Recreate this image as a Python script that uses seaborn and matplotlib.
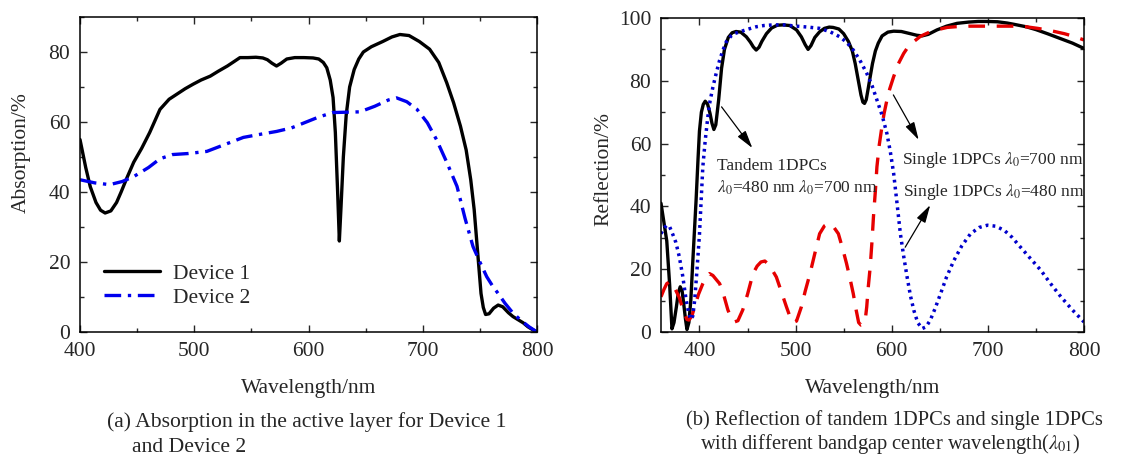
import matplotlib
matplotlib.use("Agg")
import matplotlib.pyplot as plt
from matplotlib.ticker import MultipleLocator
import numpy as np
import pandas as pd
import seaborn as sns

# ---------------- data ----------------
# (a) absorption in the active layer
dev1_wl = [400, 405, 409, 414, 418, 422, 427, 432, 436, 441, 447, 454, 461, 470, 478,
           485, 492, 499, 506, 514, 521, 529, 535, 540, 547, 554, 560, 564, 568, 572,
           576, 581, 588, 596, 604, 609, 613, 616, 619, 621.5, 623.5, 625.5, 627, 628.5,
           630.5, 633, 636, 640, 644, 648, 655, 665, 673, 680, 688, 697, 706, 714,
           721, 727, 733, 738, 742, 745, 747, 749, 751, 753, 755, 758, 762, 766, 770,
           775, 779, 784, 788, 792, 796, 800]
dev1_abs = [55, 47, 41.5, 37, 34.8, 34.0, 34.6, 37, 40, 44, 48.5, 52.5, 57, 63.6, 66.5,
            68, 69.5, 70.8, 72, 73.1, 74.5, 76, 77.3, 78.4, 78.4, 78.5, 78.3, 77.8, 76.8, 76.0,
            76.8, 78, 78.4, 78.4, 78.3, 78, 77, 75.5, 72, 67, 57, 40, 26, 36,
            50, 62, 70, 75, 78, 80, 81.5, 83, 84.3, 85, 84.7, 83, 80.8, 77,
            71.2, 65.5, 58.8, 52, 43.5, 35, 27, 19, 11, 7, 5, 5.2, 6.8, 7.7, 7.2,
            5.5, 4.4, 3.4, 2.6, 1.5, 0.7, 0]

dev2_wl = [400, 413, 426, 437, 447, 460, 470, 481, 495, 511, 527, 543, 558, 572, 585,
           595, 608, 621, 633, 645, 658, 670, 677, 686, 695, 704, 712, 721, 730, 737,
           744, 750, 756, 761, 766, 772, 779, 786, 793, 800]
dev2_abs = [43.5, 42.6, 42.1, 43, 44.4, 47, 49.5, 50.7, 51, 51.6, 53.6, 55.6, 56.5, 57.3, 58.3,
            59.6, 61.3, 62.7, 62.8, 62.9, 64.5, 66.3, 66.9, 65.8, 63.6, 59.8, 55, 48.5, 41.6, 32.5,
            24.4, 20, 15.8, 13.2, 11, 8.2, 5.4, 3.3, 1.5, 0]

# (b) reflection spectra
tandem_wl = [360, 363, 366, 369, 371.4, 373.5, 376, 378, 380, 382, 384, 385.5, 387, 389,
             391, 393, 396.5, 398.5, 400, 402, 404, 406, 408.5, 411, 413, 415, 417, 420,
             423, 426, 430, 434, 438, 443, 448.8, 453, 456, 459, 462, 465, 469.7, 475,
             481, 487, 494, 501, 506, 510, 513, 516, 520, 525, 530, 535, 539, 545, 550,
             555, 559, 562, 565, 568, 570, 571.7, 573.5, 575.5, 577.6, 580, 583, 586,
             590, 596, 602, 610, 619.4, 626, 631.6, 638, 647, 657, 668, 680, 690, 699.5,
             710, 720, 727, 740, 750, 762, 775, 788, 800]
tandem_ref = [41, 35, 29, 15, 1.0, 3, 8, 12.5, 14.4, 13, 8, 4, 0.8, 3,
              10, 22, 42, 55, 64, 70, 72.5, 73.5, 72.5, 69.6, 66.5, 64.5, 66, 74,
              84, 90, 93.8, 95.3, 95.7, 95.5, 94, 92.3, 90.8, 89.8, 90.7, 92.6, 95, 96.8,
              97.7, 97.8, 97.6, 96.2, 94, 91.5, 90, 91.2, 93.8, 95.6, 96.7, 97.1, 97, 96.5, 95,
              92.5, 89.5, 85.5, 80.5, 75.5, 73.2, 72.8, 74, 77.5, 81.3, 85.5, 89.5, 92,
              94.3, 95.5, 95.8, 95.7, 95, 94.5, 94.3, 94.8, 96.2, 97.4, 98.3, 98.7, 98.9, 98.9,
              98.8, 98.4, 98, 97.2, 96.3, 95, 93.5, 92, 90.3]

single700_wl = [360, 363, 366, 369, 372, 375, 379, 382, 385, 387, 389, 392, 395, 399,
                403.5, 407, 410.4, 414, 418, 421, 425, 429.6, 433, 436.5, 440, 445, 450,
                455.7, 460, 464, 468, 472, 476, 480, 485, 490.5, 494, 497.5, 501, 506,
                510, 515, 520, 525, 530, 534.5, 539, 544.5, 549, 553, 557, 560, 563,
                565.6, 568, 570, 572.4, 574, 575.5, 577.6, 579.5, 581, 583, 584.6, 587,
                589.8, 592, 595, 598, 602, 607, 612.4, 617, 623, 630, 640, 648, 657.7,
                670, 680, 692.6, 705, 715, 727, 740, 751.8, 765, 779.6, 790, 800]
single700_ref = [11.2, 13.5, 15.4, 16, 15.5, 13.5, 11, 8, 5.5, 4.0, 3.8, 5, 8, 12,
                 15.4, 17.6, 18.6, 18, 16.5, 15.4, 12, 7, 4.5, 3.2, 3.6, 7, 12,
                 18.6, 21, 22.3, 22.6, 21.5, 19.6, 17.5, 13, 8, 5, 3, 3.5, 8,
                 13, 18.6, 25, 31.3, 33.8, 34.6, 33.7, 31.3, 26.5, 21.8, 16.5, 12.2, 7,
                 3, 2.2, 2.4, 3.7, 8, 14, 20.7, 29, 36.7, 45, 52.6, 59.5,
                 65.4, 69.5, 73.9, 77.5, 81.3, 85.5, 88.7, 90.8, 92.5, 94.2, 95.6, 96.3, 97,
                 97.3, 97.4, 97.4, 97.4, 97.4, 97.4, 97.2, 96.7, 96, 95, 94.1, 93]

single480_wl = [360, 363, 366, 369, 372, 375.5, 379, 382.5, 386, 388.5, 391, 393, 395,
                397.5, 400, 403.5, 406, 408.7, 411, 414, 417.5, 421, 424.5, 428, 433,
                437, 442, 450, 459, 467, 476.6, 488, 501, 513, 525, 536, 546, 553,
                560, 567, 574, 579.5, 584.6, 590, 595, 598.5, 602, 605.5, 609, 612.5,
                616, 619.5, 623, 627, 631.6, 635.5, 640, 645, 650.8, 657, 664.7, 673,
                682, 691, 699.5, 708, 717, 725, 734, 744, 755, 765, 776, 788, 800]
single480_ref = [31.3, 33, 34, 33.5, 31.3, 28.5, 24, 18, 10.5, 6.5, 4.0, 5, 10,
                 20, 31, 52.6, 61, 68.5, 73.5, 78, 82.5, 86.6, 89.8, 92.5, 94.3,
                 95.1, 95.6, 96.4, 97.2, 97.6, 97.8, 97.8, 97.4, 97.1, 96.7, 95.6, 94, 92.3,
                 89.8, 86.5, 82.4, 78.5, 73.9, 69, 63.2, 57.5, 50.5, 41, 31.3, 24,
                 17.5, 11.5, 6.9, 3, 1.1, 1.6, 3.7, 7.4, 12.2, 17.5, 22.8, 27.5,
                 31.3, 33.3, 34, 33.7, 32.4, 30.2, 27, 23.5, 19.7, 15.5, 11.2, 7, 3.2]

abs_series = ["Device 1", "Device 2"]
ref_series = ["Tandem 1DPCs", "Single 1DPCs 700 nm", "Single 1DPCs 480 nm"]

# ---------------- style ----------------
sns.set_style("ticks")
plt.rcParams["font.family"] = ["Liberation Serif", "DejaVu Serif"]
plt.rcParams["mathtext.fontset"] = "stix"
plt.rcParams["axes.linewidth"] = 1.1

fig = plt.figure(figsize=(11.43, 4.58), dpi=100)
ax1 = fig.add_axes([80 / 1143, 126 / 458, 457 / 1143, 315 / 458])
ax2 = fig.add_axes([661 / 1143, 126 / 458, 423 / 1143, 314 / 458])

# ---------------- (a) absorption ----------------
df_abs = pd.concat([
    pd.DataFrame({"wl": dev1_wl, "val": dev1_abs, "series": abs_series[0]}),
    pd.DataFrame({"wl": dev2_wl, "val": dev2_abs, "series": abs_series[1]}),
])
sns.lineplot(data=df_abs[df_abs.series == abs_series[0]], x="wl", y="val", ax=ax1,
             color="black", lw=2.4, label=abs_series[0], sort=False)
sns.lineplot(data=df_abs[df_abs.series == abs_series[1]], x="wl", y="val", ax=ax1,
             color="#0000ee", lw=2.4, label=abs_series[1], sort=False,
             dashes=False)
ax1.lines[1].set_dashes((5, 2, 1, 2))

ax1.set_xlim(400, 800)
ax1.set_ylim(0, 90)
ax1.xaxis.set_major_locator(MultipleLocator(100))
ax1.xaxis.set_minor_locator(MultipleLocator(50))
ax1.yaxis.set_major_locator(MultipleLocator(20))
ax1.yaxis.set_minor_locator(MultipleLocator(10))
ax1.set_ylabel("Absorption/%", fontsize=15.5)
ax1.set_xlabel("Wavelength/nm", fontsize=15.5)
ax1.yaxis.set_label_coords(-0.108, 0.57)
ax1.xaxis.set_label_coords(0.5, -0.15)

leg = ax1.legend(loc="lower left", bbox_to_anchor=(0.01, 0.015), frameon=False,
                 fontsize=15.5, handlelength=2.6, handletextpad=0.6, labelspacing=0.2)
leg.get_lines()[1].set_dashes((5, 2, 1, 2))

# ---------------- (b) reflection ----------------
df_ref = pd.concat([
    pd.DataFrame({"wl": tandem_wl, "val": tandem_ref, "series": ref_series[0]}),
    pd.DataFrame({"wl": single700_wl, "val": single700_ref, "series": ref_series[1]}),
    pd.DataFrame({"wl": single480_wl, "val": single480_ref, "series": ref_series[2]}),
])
sns.lineplot(data=df_ref[df_ref.series == ref_series[0]], x="wl", y="val", ax=ax2,
             color="black", lw=2.4, sort=False)
sns.lineplot(data=df_ref[df_ref.series == ref_series[1]], x="wl", y="val", ax=ax2,
             color="#e60000", lw=2.4, sort=False)
sns.lineplot(data=df_ref[df_ref.series == ref_series[2]], x="wl", y="val", ax=ax2,
             color="#0000cc", lw=2.5, sort=False)
ax2.lines[1].set_dashes((5, 3.5))
ax2.lines[2].set_dashes((0.8, 1.2))

ax2.set_xlim(360, 800)
ax2.set_ylim(0, 100)
ax2.xaxis.set_major_locator(MultipleLocator(100))
ax2.xaxis.set_minor_locator(MultipleLocator(50))
ax2.yaxis.set_major_locator(MultipleLocator(20))
ax2.yaxis.set_minor_locator(MultipleLocator(10))
ax2.set_ylabel("Reflection/%", fontsize=15.5)
ax2.set_xlabel("Wavelength/nm", fontsize=15.5)
ax2.yaxis.set_label_coords(-0.112, 0.52)
ax2.xaxis.set_label_coords(0.5, -0.15)

ann_fs = 12.5
ax2.text(418, 53, "Tandem 1DPCs", fontsize=ann_fs, va="center", ha="left")
ax2.text(418, 46, r"$\lambda_0$=480 nm $\lambda_0$=700 nm", fontsize=ann_fs,
         va="center", ha="left")
ax2.text(611, 54.8, r"Single 1DPCs $\lambda_0$=700 nm", fontsize=ann_fs,
         va="center", ha="left")
ax2.text(612, 44.7, r"Single 1DPCs $\lambda_0$=480 nm", fontsize=ann_fs,
         va="center", ha="left")
arrow = dict(arrowstyle="-|>,head_length=0.9,head_width=0.25", color="black", lw=0.9,
             mutation_scale=12, shrinkA=0, shrinkB=0)
ax2.annotate("", xy=(455, 58.6), xytext=(423, 71.7), arrowprops=arrow)
ax2.annotate("", xy=(628, 61.2), xytext=(601.7, 75.5), arrowprops=arrow)
ax2.annotate("", xy=(640, 40.4), xytext=(614, 27), arrowprops=arrow)

for ax in (ax1, ax2):
    ax.tick_params(which="both", direction="in", top=True, right=True,
                   labelsize=15.5, width=1.0)
    ax.tick_params(which="major", length=5, pad=7)
    ax.tick_params(which="minor", length=3)
    for s in ax.spines.values():
        s.set_color("black")

# ---------------- captions ----------------
fig.text(107 / 1143, 1 - 422 / 458, "(a) Absorption in the active layer for Device 1",
         fontsize=15.6, va="center", ha="left")
fig.text(132 / 1143, 1 - 447 / 458, "and Device 2", fontsize=15.6,
         va="center", ha="left")
fig.text(686 / 1143, 1 - 420 / 458, "(b) Reflection of tandem 1DPCs and single 1DPCs",
         fontsize=14.8, va="center", ha="left")
fig.text(700 / 1143, 1 - 444 / 458,
         r"with different bandgap center wavelength($\lambda_{01}$)",
         fontsize=14.8, va="center", ha="left")

fig.savefig("out.png", dpi=100)
